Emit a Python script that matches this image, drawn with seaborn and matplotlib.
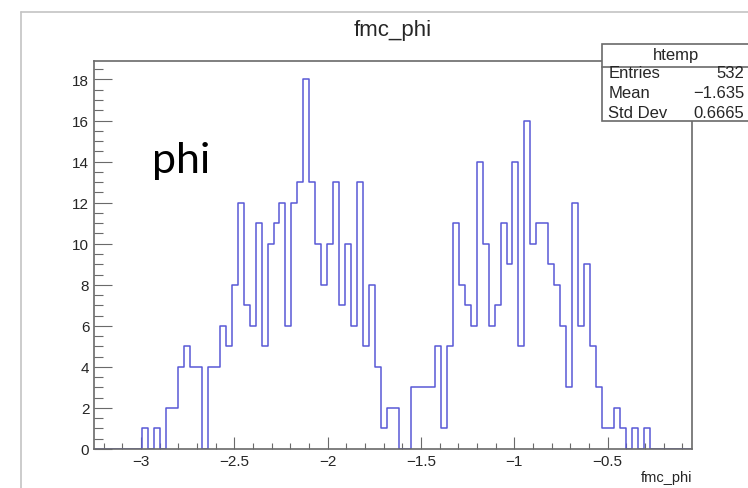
import numpy as np
import pandas as pd
import matplotlib
matplotlib.use("Agg")
import matplotlib.pyplot as plt
import seaborn as sns
from matplotlib.lines import Line2D
from matplotlib.patches import Rectangle

# ---- data ----
x_min, x_max, n_bins = -3.25, -0.05, 100
counts = [
    0, 0, 0, 0, 0, 0, 0, 0, 1, 0,
    1, 0, 2, 2, 4, 5, 4, 4, 0, 4,
    4, 6, 5, 8, 12, 7, 6, 11, 5, 10,
    11, 12, 6, 12, 13, 18, 13, 10, 8, 10,
    13, 7, 10, 6, 13, 5, 8, 4, 1, 2,
    2, 0, 0, 3, 3, 3, 3, 5, 1, 5,
    11, 8, 7, 6, 14, 10, 6, 7, 11, 9,
    14, 5, 16, 10, 11, 11, 9, 8, 6, 3,
    12, 6, 9, 5, 3, 1, 1, 2, 1, 0,
    1, 0, 1, 0, 0, 0, 0, 0, 0, 0,
]
x_ticks = [-3, -2.5, -2, -1.5, -1, -0.5]
x_tick_labels = ["\u22123", "\u22122.5", "\u22122", "\u22121.5", "\u22121", "\u22120.5"]
y_ticks = [0, 2, 4, 6, 8, 10, 12, 14, 16, 18]
stat_names = ["Entries", "Mean", "Std Dev"]
stat_values = ["532", "\u22121.635", "0.6665"]
title = "fmc_phi"
hist_name = "htemp"
x_label = "fmc_phi"
annotation = "phi"

edges = np.linspace(x_min, x_max, n_bins + 1)
df = pd.DataFrame({"phi": (edges[:-1] + edges[1:]) / 2, "n": counts})

W, H = 748, 489
fig = plt.figure(figsize=(W / 100, H / 100), dpi=100)
sns.set_style("white")
plt.rcParams["font.family"] = ["Liberation Sans", "DejaVu Sans"]

def fx(px):
    return px / W

def fy(py):
    return 1 - py / H

ax_l, ax_r, ax_t, ax_b = 94.3, 691.7, 62.0, 450.0
ax = fig.add_axes([fx(ax_l), fy(ax_b), (ax_r - ax_l) / W, (ax_b - ax_t) / H])

sns.histplot(data=df, x="phi", weights="n", bins=n_bins, binrange=(x_min, x_max),
             element="step", fill=False, color="#5858d6", linewidth=1.1, ax=ax)

ax.set_xlim(x_min, x_max)
ax.set_ylim(0, 18.9)
ax.set_xlabel("")
ax.set_ylabel("")
frame_col = "#6a6a6a"
for s in ax.spines.values():
    s.set_color(frame_col)
    s.set_linewidth(1.2)

ax.set_xticks(x_ticks)
ax.set_xticklabels(x_tick_labels)
ax.set_xticks(np.arange(-3.2, -0.05, 0.1), minor=True)
ax.set_yticks(y_ticks)
ax.set_yticklabels([str(v) for v in y_ticks])
ax.set_yticks(np.arange(0, 18.9, 0.5), minor=True)
ax.tick_params(axis="x", which="major", direction="in", length=8.4, width=0.8,
               color=frame_col, labelsize=11, pad=3.5, top=False, bottom=True)
ax.tick_params(axis="x", which="minor", direction="in", length=4.1, width=0.8,
               color=frame_col, top=False, bottom=True)
ax.tick_params(axis="y", which="major", direction="in", length=13, width=0.8,
               color=frame_col, labelsize=11, pad=3.6, left=True, right=False)
ax.tick_params(axis="y", which="minor", direction="in", length=6.5, width=0.8,
               color=frame_col, left=True, right=False)
ax.grid(False)

# canvas border (light gray)
fig.add_artist(Line2D([fx(20.7), fx(20.7)], [fy(13.3), 0], color="#c4c4c4", lw=1.2))
fig.add_artist(Line2D([fx(20.7), 1], [fy(13.3), fy(13.3)], color="#c4c4c4", lw=1.2))

# title
fig.text(fx(393), fy(36), title, ha="center", va="baseline", fontsize=16)

# x-axis title
fig.text(fx(692), fy(478), x_label, ha="right", va="center", fontsize=10.5)

# annotation
fig.text(fx(152), fy(173.3), annotation, ha="left", va="baseline",
         fontsize=31, family=["Lato", "DejaVu Sans"], color="black")

# stats box
bx0, bx1, by0, by1, bymid = 601.7, 760, 45.0, 121.7, 68.3
fig.add_artist(Rectangle((fx(bx0), fy(by1)), (bx1 - bx0) / W, (by1 - by0) / H,
                         transform=fig.transFigure, facecolor="white",
                         edgecolor=frame_col, lw=1.2, zorder=5))
fig.add_artist(Line2D([fx(bx0), 1], [fy(bymid), fy(bymid)], color=frame_col,
                      lw=1.2, zorder=6))
fig.text(fx(676.5), fy(55.5), hist_name, ha="center", va="center", fontsize=12, zorder=7)
for i, (nm, val) in enumerate(zip(stat_names, stat_values)):
    yy = 74 + i * 19.8
    fig.text(fx(608.5), fy(yy), nm, ha="left", va="center", fontsize=12, zorder=7)
    fig.text(fx(744), fy(yy), val, ha="right", va="center", fontsize=12, zorder=7)

fig.savefig("out.png", dpi=100)
